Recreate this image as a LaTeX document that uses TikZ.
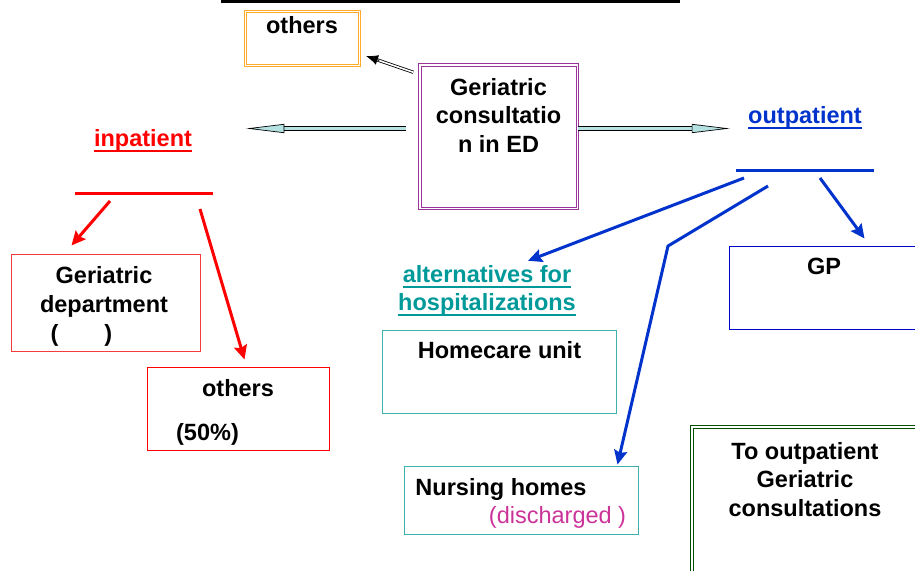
\documentclass[tikz,border=0pt]{standalone}
\usepackage{fontspec}
\setmainfont{Liberation Sans}
\usepackage{tikz}
\usetikzlibrary{arrows.meta,positioning}
\definecolor{othcol}{RGB}{255,170,40}
\definecolor{geripurple}{RGB}{153,51,153}
\definecolor{arrowfill}{RGB}{180,225,225}
\definecolor{inred}{RGB}{255,0,0}
\definecolor{boxred}{RGB}{245,60,60}
\definecolor{outblue}{RGB}{0,51,204}
\definecolor{gpblue}{RGB}{0,0,204}
\definecolor{altteal}{RGB}{0,153,153}
\definecolor{boxteal}{RGB}{60,175,175}
\definecolor{dischmag}{RGB}{204,51,153}
\definecolor{consgreen}{RGB}{0,80,0}

\begin{document}
\begin{tikzpicture}[x=1pt,y=-1pt,
    txt/.style={font=\fontsize{23.5}{28.5}\selectfont\bfseries, inner sep=0pt, anchor=base, align=center},
    box/.style={draw, line width=1pt, inner sep=0pt},
    dbox/.style={draw, line width=1pt, double, double distance=1.5pt, inner sep=0pt},
    uline/.style={line width=2.5pt},
    redarrow/.style={inred, line width=3pt, -{Stealth[length=14pt,width=13pt,inset=2pt]}},
    bluearrow/.style={outblue, line width=3pt, -{Stealth[length=14pt,width=13pt,inset=2pt]}},
    bigarrow/.style={line width=0.7pt, double=arrowfill, double distance=3.6pt, -{Triangle[length=38pt,width=9pt,fill=arrowfill]}},
    dblline/.style={line width=0.8pt, double, double distance=1.6pt, shorten >=9pt},
    dbltip/.style={line width=0.8pt, shorten <=36pt, -{Latex[length=12pt,width=10pt]}}]
    \useasboundingbox (0,0) rectangle (915,570);
    \fill (221,0) rectangle (680,3);

    % boxes
    \node [dbox, draw=othcol, minimum width=114pt, minimum height=54pt] (othtop) at (302.5,38.5) {};
    \node [dbox, draw=geripurple, minimum width=157.5pt, minimum height=143.5pt] (gcons) at (498.5,136.5) {};
    \node [box, draw=boxred, minimum width=189pt, minimum height=97pt] (gdept) at (105.5,302.5) {};
    \node [box, draw=inred, minimum width=182pt, minimum height=83pt] (othin) at (238,408.5) {};
    \node [box, draw=boxteal, minimum width=234pt, minimum height=83pt] (homecare) at (499,371.5) {};
    \node [box, draw=boxteal, minimum width=234pt, minimum height=68pt] (nursing) at (521,500) {};
    \node [box, draw=gpblue, minimum width=196pt, minimum height=83pt] (gp) at (827,287.5) {};
    \node [dbox, draw=consgreen, minimum width=233pt, minimum height=153pt] (outcons) at (808.5,503.5) {};

    % texts (multi-line: base is the last line)
    \node [txt] (othtoptxt) at (302,33) {others};
    \node [txt] (gconstxt) at (498.5,152) {Geriatric\\consultatio\\n in ED};
    \node [txt] (gdepttxt) at (104,312) {Geriatric\\department};
    \node [txt] (gdeptpar) at (81.5,341) {(\hspace{46pt})};
    \node [txt] (othintxt) at (238,396) {others};
    \node [txt] (othinpct) at (207.5,440) {(50\%)};
    \node [txt] (homecaretxt) at (499.5,358) {Homecare unit};
    \node [txt] (nursingtxt) at (501,495) {Nursing homes};
    \node [txt, font=\fontsize{23.5}{28.5}\selectfont, text=dischmag] (dischtxt) at (557.5,523) {(discharged )};
    \node [txt] (gptxt) at (824,274) {GP};
    \node [txt] (outconstxt) at (805,516) {To outpatient\\Geriatric\\consultations};

    % labels
    \node [txt, text=inred] (inpat) at (143,146) {inpatient};
    \node [txt, text=outblue] (outpat) at (805,123) {outpatient};
    \node [txt, text=altteal] (altern) at (487,282) {alternatives for};
    \node [txt, text=altteal] (hospit) at (487,310) {hospitalizations};
    \draw [uline, inred] ([yshift=-4.75pt]inpat.base west) -- ([yshift=-4.75pt]inpat.base east);
    \draw [uline, outblue] ([yshift=-4.75pt]outpat.base west) -- ([yshift=-4.75pt]outpat.base east);
    \draw [uline, altteal] ([yshift=-4.75pt]altern.base west) -- ([yshift=-4.75pt]altern.base east);
    \draw [uline, altteal] ([yshift=-4.75pt]hospit.base west) -- ([yshift=-4.75pt]hospit.base east);

    % blanks
    \coordinate (inbar) at (75,193);
    \coordinate (outbar) at (736,170);
    \draw [inred, line width=3pt] (inbar) -- ++(138,0);
    \draw [outblue, line width=3pt] (outbar) -- ++(138,0);

    % arrows
    \draw [dblline] ([xshift=-6pt,yshift=-8pt]gcons.north west) -- ([xshift=6pt,yshift=10pt]othtop.south east);
    \draw [dbltip] ([xshift=-6pt,yshift=-8pt]gcons.north west) -- ([xshift=6pt,yshift=10pt]othtop.south east);
    \draw [bigarrow] ([xshift=-13pt,yshift=8pt]gcons.west) -- ++(-160,0);
    \draw [bigarrow] ([yshift=8pt]gcons.east) -- ++(152,0);
    \draw [redarrow] ([xshift=35pt,yshift=-8pt]inbar) -- ([xshift=61pt,yshift=8pt]gdept.north west);
    \draw [redarrow] ([xshift=125pt,yshift=-16pt]inbar) -- ([xshift=98pt,yshift=7pt]othin.north west);
    \draw [bluearrow] ([xshift=8pt,yshift=-8pt]outbar) -- ([xshift=41pt,yshift=4pt]altern.north);
    \draw [bluearrow] ([xshift=32pt,yshift=-16pt]outbar) -- ++(-100,60) -- ([xshift=-21pt,yshift=1pt]nursing.north east);
    \draw [bluearrow] ([xshift=84pt,yshift=-8pt]outbar) -- ([xshift=136pt,yshift=7pt]gp.north west);
\end{tikzpicture}
\end{document}
